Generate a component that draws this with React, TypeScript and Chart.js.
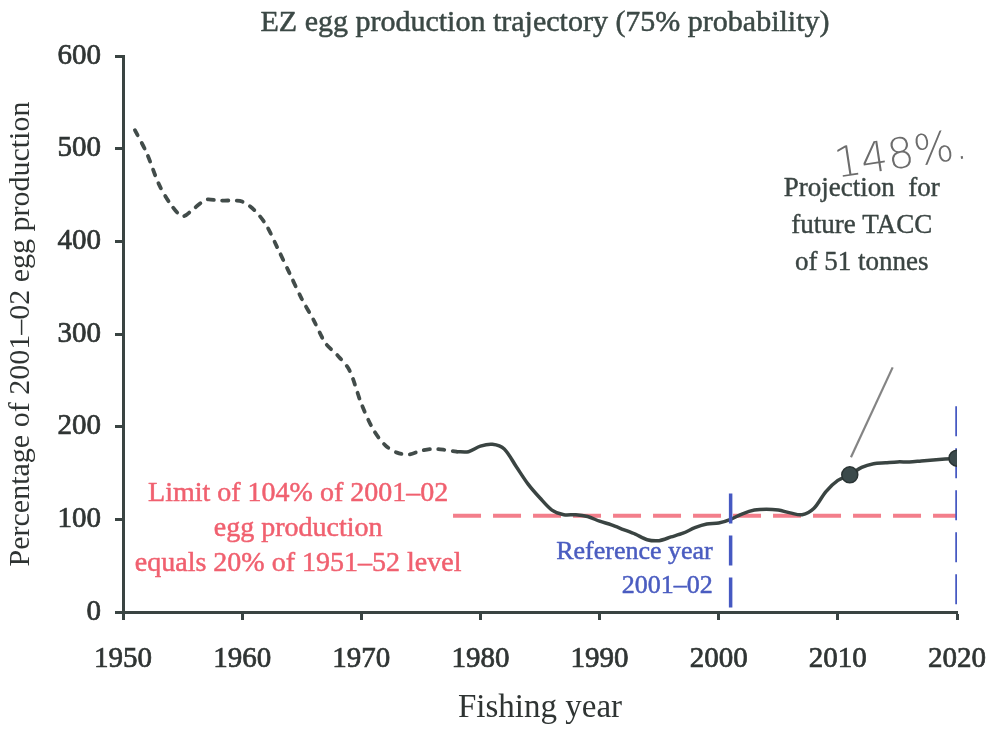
import React, { useEffect, useRef } from "react";
import { Chart, registerables } from "chart.js";

Chart.register(...registerables);

// ---- Data ----
const historicYears = [1951, 1952, 1953, 1954, 1955, 1956, 1957, 1958, 1959, 1960, 1961, 1962, 1963, 1964, 1965, 1966, 1967, 1968, 1969, 1970, 1971, 1972, 1973, 1974, 1975, 1976, 1977, 1978];
const historicValues = [520, 495, 462, 440, 427, 436, 445, 444, 444, 443, 434, 418, 392, 365, 338, 315, 290, 277, 261, 225, 197, 180, 172, 170, 174, 176, 175, 173];

const projectedYears = [1978, 1979, 1980, 1981, 1982, 1983, 1984, 1985, 1986, 1987, 1988, 1989, 1990, 1991, 1992, 1993, 1994, 1995, 1996, 1997, 1998, 1999, 2000, 2001, 2002, 2003, 2004, 2005, 2006, 2007, 2008, 2009, 2010, 2011, 2012, 2013, 2014, 2015, 2016, 2017, 2018, 2019, 2020];
const projectedValues = [173, 173, 179, 181, 176, 157, 138, 123, 110, 105, 105, 103, 98, 94, 89, 84, 78, 77, 81, 85, 91, 95, 96, 100, 106, 110, 111, 110, 107, 105, 112, 130, 142, 148, 156, 160, 161, 162, 162, 163, 164, 165, 166];

const markerYears = [2011, 2020];
const markerValues = [148, 166];

const limitYears = [1977.7, 2020];
const limitValues = [104, 104];

const referenceYears = [2001, 2001];
const referenceValues = [128, 0];

const endYears = [2020, 2020];
const endValues = [222, 0];

const pencilYears = [2011.1, 2014.6];
const pencilValues = [167, 264];

const xTickValues = [1950, 1960, 1970, 1980, 1990, 2000, 2010, 2020];
const yTickValues = [0, 100, 200, 300, 400, 500, 600];

const titleText = "EZ egg production trajectory (75% probability)";
const xTitleText = "Fishing year";
const yTitleText = "Percentage of 2001–02 egg production";

const limitLabelLines = ["Limit of 104% of 2001–02", "egg production", "equals 20% of 1951–52 level"];
const referenceLabelLines = ["Reference year", "2001–02"];
const projectionLabelLines = ["Projection  for", "future TACC", "of 51 tonnes"];
const handNote = "148%.";

const SERIF = "'Liberation Serif', 'DejaVu Serif', serif";
const INK = "#3a4442";
const TEXT = "#2f3433";
const RED = "rgba(240, 98, 114, 0.82)";
const BLUE = "#4659c2";

function toPoints(xs: number[], ys: number[]) {
  return xs.map((x, i) => ({ x, y: ys[i] }));
}

function heavyText(ctx: any, t: string, x: number, y: number, w: number) {
  ctx.lineWidth = w;
  ctx.strokeStyle = ctx.fillStyle;
  ctx.lineJoin = "round";
  ctx.strokeText(t, x, y);
  ctx.fillText(t, x, y);
}

const annotationPlugin = {
  id: "textNotes",
  afterDatasetsDraw(chart: any) {
    const { ctx, scales, chartArea } = chart;
    const xs = scales.x;
    const ys = scales.y;
    const px = (v: number) => xs.getPixelForValue(v);
    const py = (v: number) => ys.getPixelForValue(v);
    ctx.save();
    ctx.textBaseline = "middle";

    // chart title, centred over the plot area
    ctx.fillStyle = "#3b4845";
    ctx.font = `30px ${SERIF}`;
    ctx.textAlign = "center";
    heavyText(ctx, titleText, (chartArea.left + chartArea.right) / 2 + 5, 23, 0.5);

    // limit label (red)
    ctx.fillStyle = "#f0606f";
    ctx.font = `28px ${SERIF}`;
    ctx.textAlign = "center";
    limitLabelLines.forEach((t, i) => heavyText(ctx, t, px(1964.7), py(128) + i * 35, 0.5));

    // reference label (blue)
    ctx.fillStyle = "#4a5cc0";
    ctx.font = `26px ${SERIF}`;
    ctx.textAlign = "right";
    referenceLabelLines.forEach((t, i) => heavyText(ctx, t, px(1999.5), py(65) + i * 34, 0.5));

    // projection label
    ctx.fillStyle = INK;
    ctx.font = `27px ${SERIF}`;
    ctx.textAlign = "center";
    projectionLabelLines.forEach((t, i) => heavyText(ctx, t, px(2012), py(457) + i * 37, 0.4));

    // handwritten note
    ctx.save();
    ctx.translate(px(2015.3), py(491));
    ctx.rotate(-0.15);
    ctx.fillStyle = "#6c6c6c";
    ctx.font = `300 42px 'DejaVu Sans', sans-serif`;
    ctx.textAlign = "center";
    ctx.fillText(handNote, 0, 0);
    ctx.restore();

    ctx.restore();
  },
};

export default function App() {
  const canvasRef = useRef<HTMLCanvasElement | null>(null);

  useEffect(() => {
    document.body.style.margin = "0";
    const canvas = canvasRef.current;
    if (!canvas) return;
    const chart = new Chart(canvas, {
      type: "line",
      data: {
        datasets: [
          {
            label: "markers",
            data: toPoints(markerYears, markerValues),
            showLine: false,
            pointRadius: 8,
            pointBackgroundColor: "#3b4a4b",
            pointBorderColor: "#2a3434",
            pointBorderWidth: 1.5,
          },
          {
            label: "reference",
            data: toPoints(referenceYears, referenceValues),
            borderColor: BLUE,
            borderWidth: 3.5,
            borderDash: [30, 12],
            pointRadius: 0,
          },
          {
            label: "end",
            data: toPoints(endYears, endValues),
            borderColor: BLUE,
            borderWidth: 3.5,
            borderDash: [30, 12],
            pointRadius: 0,
          },
          {
            label: "pencil",
            data: toPoints(pencilYears, pencilValues),
            borderColor: "rgba(110,110,110,0.85)",
            borderWidth: 2.2,
            pointRadius: 0,
          },
          {
            label: "projected",
            data: toPoints(projectedYears, projectedValues),
            borderColor: INK,
            borderWidth: 3.5,
            tension: 0.3,
            pointRadius: 0,
          },
          {
            label: "historic",
            data: toPoints(historicYears, historicValues),
            borderColor: "#424c4a",
            borderWidth: 3.8,
            borderDash: [6, 8.5],
            borderCapStyle: "round",
            tension: 0.3,
            pointRadius: 0,
          },
          {
            label: "limit",
            data: toPoints(limitYears, limitValues),
            borderColor: RED,
            borderWidth: 4,
            borderDash: [28, 12],
            pointRadius: 0,
          },
        ],
      },
      options: {
        animation: false,
        responsive: false,
        devicePixelRatio: 1,
        layout: { padding: { top: 56, left: 0, right: 33, bottom: 0 } },
        plugins: {
          legend: { display: false },
          tooltip: { enabled: false },
          title: { display: false },
        },
        scales: {
          x: {
            type: "linear",
            min: 1950,
            max: 2020,
            afterBuildTicks: (s: any) => {
              s.ticks = xTickValues.map((v) => ({ value: v }));
            },
            afterFit: (s: any) => {
              s.height = 117;
              s.paddingLeft = 0;
              s.paddingRight = 0;
            },
            ticks: {
              autoSkip: false,
              maxRotation: 0,
              color: TEXT,
              textStrokeColor: TEXT,
              textStrokeWidth: 0.7,
              padding: 22,
              font: { family: SERIF, size: 29 },
              callback: (v: any) => String(v),
            },
            grid: {
              drawOnChartArea: false,
              drawTicks: true,
              tickLength: 8,
              tickWidth: 3,
              tickColor: INK,
            },
            border: { display: true, color: INK, width: 3 },
            title: {
              display: true,
              text: xTitleText,
              color: TEXT,
              font: { family: SERIF, size: 33 },
              padding: { top: 0, bottom: 1 },
            },
          },
          y: {
            type: "linear",
            min: 0,
            max: 600,
            afterBuildTicks: (s: any) => {
              s.ticks = yTickValues.map((v) => ({ value: v }));
            },
            afterFit: (s: any) => {
              s.width = 123;
              s.paddingTop = 0;
              s.paddingBottom = 0;
            },
            ticks: {
              color: TEXT,
              textStrokeColor: TEXT,
              textStrokeWidth: 0.7,
              padding: 14,
              font: { family: SERIF, size: 29 },
              callback: (v: any) => String(v),
            },
            grid: {
              drawOnChartArea: false,
              drawTicks: true,
              tickLength: 8,
              tickWidth: 3,
              tickColor: INK,
            },
            border: { display: true, color: INK, width: 3 },
            title: {
              display: true,
              text: yTitleText,
              color: TEXT,
              font: { family: SERIF, size: 30 },
              padding: { top: 3, bottom: 0 },
            },
          },
        },
      },
      plugins: [annotationPlugin],
    });
    return () => chart.destroy();
  }, []);

  return (
    <div style={{ width: 990, height: 729, background: "#fff" }}>
      <canvas ref={canvasRef} width={990} height={729} />
    </div>
  );
}
